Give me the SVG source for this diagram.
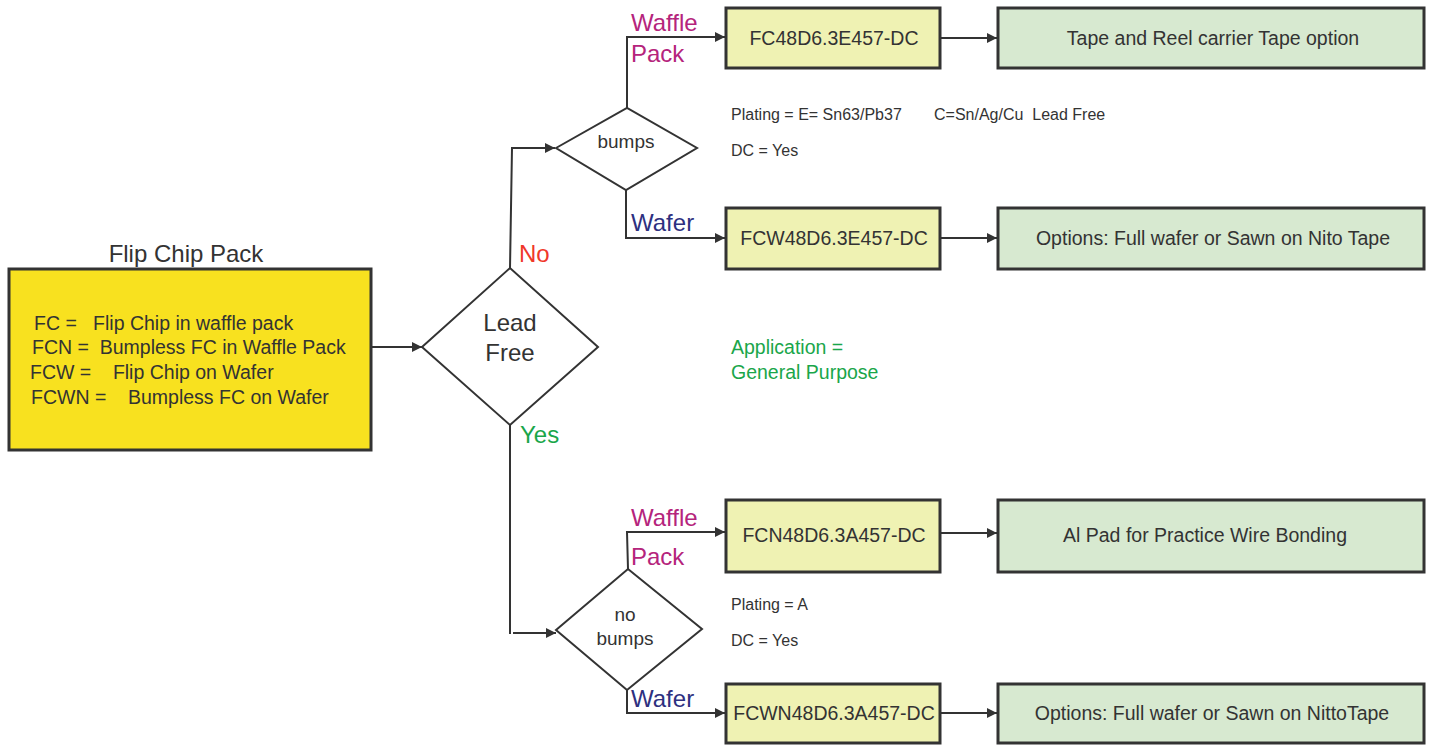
<svg xmlns="http://www.w3.org/2000/svg" width="1430" height="745" viewBox="0 0 1430 745">
<style>
text{font-family:"Liberation Sans",Arial,sans-serif;fill:#333}
.box{stroke:#333;stroke-width:3}
.main{fill:#f8e11f}
.yb{fill:#eff2b3}
.gb{fill:#d7e9d0}
.dia{fill:#fff;stroke:#333;stroke-width:2}
.ln{fill:none;stroke:#333;stroke-width:2}
.mag{fill:#b5247c}
.nav{fill:#2e3080}
.red{fill:#f0382a}
.grn{fill:#1aa64a}
.c{text-anchor:middle}
.lbl{font-size:24px}
.bx{font-size:19.5px}
.nt{font-size:16px}
</style>
<defs>
<marker id="ah" viewBox="0 0 10 10" refX="10" refY="5" markerWidth="5" markerHeight="5" orient="auto" markerUnits="strokeWidth">
<path d="M0,0 L10,5 L0,10 Z" fill="#333"/>
</marker>
</defs>
<g id="connectors">
<path class="ln" marker-end="url(#ah)" d="M371,347 H422"/>
<path class="ln" marker-end="url(#ah)" d="M510,268 L512,148 H555"/>
<path class="ln" marker-end="url(#ah)" d="M627,108 V37 H725"/>
<path class="ln" marker-end="url(#ah)" d="M626,190 V238 H725"/>
<path class="ln" d="M510,425 V634"/>
<path class="ln" marker-end="url(#ah)" d="M513,633 H556"/>
<path class="ln" marker-end="url(#ah)" d="M628,569 L627,532 H725"/>
<path class="ln" marker-end="url(#ah)" d="M627,690 V713 H725"/>
<path class="ln" marker-end="url(#ah)" d="M941,38 H997"/>
<path class="ln" marker-end="url(#ah)" d="M941,238 H997"/>
<path class="ln" marker-end="url(#ah)" d="M941,533 H997"/>
<path class="ln" marker-end="url(#ah)" d="M941,713 H997"/>
</g>
<g id="labels">
<text class="red lbl" x="519" y="262">No</text>
<text class="grn lbl" x="520" y="443">Yes</text>
<text class="mag lbl" x="631" y="31">Waffle</text>
<text class="mag lbl" x="631" y="62">Pack</text>
<text class="nav lbl" x="631" y="231">Wafer</text>
<text class="mag lbl" x="631" y="526">Waffle</text>
<text class="mag lbl" x="631" y="565">Pack</text>
<text class="nav lbl" x="631" y="707">Wafer</text>
</g>
<g id="flipchip">
<text class="c" x="186" y="262" font-size="24">Flip Chip Pack</text>
<rect class="box main" x="9" y="269" width="362" height="181"/>
<text class="bx" x="34" y="330" xml:space="preserve">FC =   Flip Chip in waffle pack</text>
<text class="bx" x="32" y="354" xml:space="preserve">FCN =  Bumpless FC in Waffle Pack</text>
<text class="bx" x="30" y="379" xml:space="preserve">FCW =    Flip Chip on Wafer</text>
<text class="bx" x="31" y="404" xml:space="preserve">FCWN =    Bumpless FC on Wafer</text>
</g>
<g id="leadfree">
<path class="dia" d="M422,347 L510,268 L598,347 L510,425 Z"/>
<text class="c" x="510" y="331" font-size="24">Lead</text>
<text class="c" x="510" y="361" font-size="24">Free</text>
</g>
<g id="bumps">
<path class="dia" d="M556,148 L627,108 L697,148 L626,190 Z"/>
<text class="c" x="626" y="148" font-size="19">bumps</text>
</g>
<g id="nobumps">
<path class="dia" d="M556,630 L628,569 L702,629 L627,690 Z"/>
<text class="c" x="625" y="621" font-size="19">no</text>
<text class="c" x="625" y="645" font-size="19">bumps</text>
</g>
<g id="fc48">
<rect class="box yb" x="726" y="8" width="214" height="60"/>
<text class="c bx" x="834" y="45">FC48D6.3E457-DC</text>
</g>
<g id="tape">
<rect class="box gb" x="998" y="8" width="426" height="60"/>
<text class="c bx" x="1213" y="45">Tape and Reel carrier Tape option</text>
</g>
<g id="fcw48">
<rect class="box yb" x="726" y="208" width="214" height="61"/>
<text class="c bx" x="834" y="245">FCW48D6.3E457-DC</text>
</g>
<g id="opt1">
<rect class="box gb" x="998" y="208" width="426" height="61"/>
<text class="c bx" x="1213" y="245">Options: Full wafer or Sawn on Nito Tape</text>
</g>
<g id="fcn48">
<rect class="box yb" x="726" y="500" width="214" height="72"/>
<text class="c bx" x="834" y="542">FCN48D6.3A457-DC</text>
</g>
<g id="alpad">
<rect class="box gb" x="998" y="500" width="426" height="72"/>
<text class="c bx" x="1205" y="542">Al Pad for Practice Wire Bonding</text>
</g>
<g id="fcwn48">
<rect class="box yb" x="726" y="684" width="214" height="59"/>
<text class="c bx" x="834" y="720">FCWN48D6.3A457-DC</text>
</g>
<g id="opt2">
<rect class="box gb" x="998" y="684" width="426" height="59"/>
<text class="c bx" x="1212" y="720">Options: Full wafer or Sawn on NittoTape</text>
</g>
<g id="notes">
<text class="nt" x="731" y="120">Plating = E= Sn63/Pb37</text>
<text class="nt" x="934" y="120" xml:space="preserve">C=Sn/Ag/Cu  Lead Free</text>
<text class="nt" x="731" y="156">DC = Yes</text>
<text class="grn" x="731" y="354" font-size="19.5">Application =</text>
<text class="grn" x="731" y="379" font-size="19.5">General Purpose</text>
<text class="nt" x="731" y="610">Plating = A</text>
<text class="nt" x="731" y="646">DC = Yes</text>
</g>
</svg>
